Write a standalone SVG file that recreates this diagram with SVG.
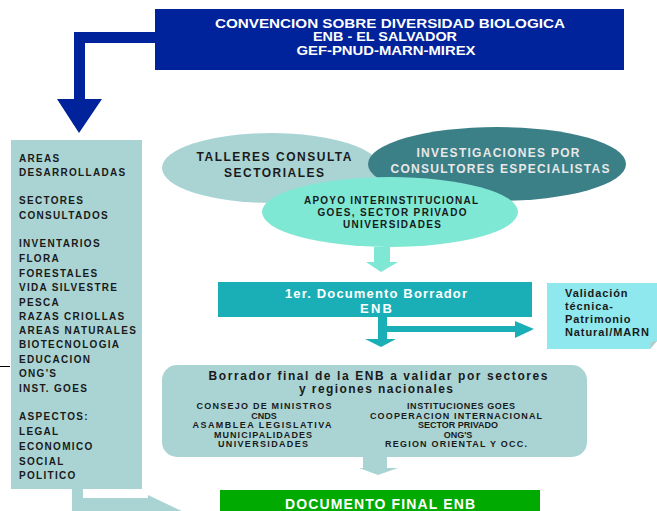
<svg xmlns="http://www.w3.org/2000/svg" width="657" height="511" viewBox="0 0 657 511">
<style>
text{font-family:"Liberation Sans",Arial,sans-serif;font-weight:bold}
.lp{font-size:10px;fill:#1a1a1a;letter-spacing:1.3px}
.hd{font-size:13px;fill:#ffffff;text-anchor:middle}
.el{font-size:12px;text-anchor:middle}
.sm{font-size:9px;fill:#1a1a1a;text-anchor:middle}
.vt{font-size:11px;fill:#1a1a1a;letter-spacing:0.9px}
</style>
<rect width="657" height="511" fill="#ffffff"/>
<g id="connectors">
  <path d="M155,32 H74 V99 H57 L79,133 L102,99 H85 V43 H155 Z" fill="#00229a"/>
  <path d="M374,247 V262 H366 L381,272 L398,262 H390 V247 Z" fill="#7fe8d4"/>
  <path d="M378,317 V339 H365 L381,347 L396,339 H387 V317 Z" fill="#1aafb7"/>
  <path d="M387,326 H515 V321 L534,329 L515,338 V332 H387 Z" fill="#1aafb7"/>
  <path d="M363,457 V468 H359 L378,475 L398,468 H387 V457 Z" fill="#aad4d4"/>
  <path d="M72,489 V511 H148 V518 L190,515 L148,495 V498 H83 V489 Z" fill="#aad4d4"/>
  <line x1="0" y1="366.5" x2="10" y2="366.5" stroke="#000" stroke-width="1"/>
</g>
<g id="top">
  <rect x="155" y="9" width="469" height="61" fill="#00229a"/>
  <text class="hd" x="390" y="28" textLength="350" lengthAdjust="spacingAndGlyphs">CONVENCION SOBRE DIVERSIDAD BIOLOGICA</text>
  <text class="hd" x="385" y="41" style="font-size:12px" textLength="144" lengthAdjust="spacingAndGlyphs">ENB - EL SALVADOR</text>
  <text class="hd" x="386" y="55" style="font-size:12px" textLength="179" lengthAdjust="spacingAndGlyphs">GEF-PNUD-MARN-MIREX</text>
</g>
<g id="left-panel">
  <rect x="11" y="140" width="131" height="349" fill="#aad4d4"/>
  <text class="lp" x="19" y="162">AREAS</text>
  <text class="lp" x="19" y="176">DESARROLLADAS</text>
  <text class="lp" x="19" y="204">SECTORES</text>
  <text class="lp" x="19" y="219">CONSULTADOS</text>
  <text class="lp" x="19" y="247">INVENTARIOS</text>
  <text class="lp" x="19" y="262">FLORA</text>
  <text class="lp" x="19" y="277">FORESTALES</text>
  <text class="lp" x="19" y="291">VIDA SILVESTRE</text>
  <text class="lp" x="19" y="306">PESCA</text>
  <text class="lp" x="19" y="320">RAZAS CRIOLLAS</text>
  <text class="lp" x="19" y="334">AREAS NATURALES</text>
  <text class="lp" x="19" y="348">BIOTECNOLOGIA</text>
  <text class="lp" x="19" y="363">EDUCACION</text>
  <text class="lp" x="19" y="377">ONG'S</text>
  <text class="lp" x="19" y="392">INST. GOES</text>
  <text class="lp" x="19" y="420">ASPECTOS:</text>
  <text class="lp" x="19" y="435">LEGAL</text>
  <text class="lp" x="19" y="450">ECONOMICO</text>
  <text class="lp" x="19" y="465">SOCIAL</text>
  <text class="lp" x="19" y="479">POLITICO</text>
</g>
<g id="talleres">
  <ellipse cx="271" cy="168" rx="109" ry="35" fill="#aad4d4"/>
  <text class="el" x="274" y="161" fill="#1a1a1a" textLength="155" lengthAdjust="spacing">TALLERES CONSULTA</text>
  <text class="el" x="274" y="177" fill="#1a1a1a" textLength="100" lengthAdjust="spacing">SECTORIALES</text>
</g>
<g id="investigaciones">
  <ellipse cx="497" cy="164" rx="129" ry="37" fill="#3b7f87"/>
  <text class="el" x="498" y="157" fill="#e8e8e8" textLength="163" lengthAdjust="spacing">INVESTIGACIONES POR</text>
  <text class="el" x="500" y="173" fill="#e8e8e8" textLength="219" lengthAdjust="spacing">CONSULTORES ESPECIALISTAS</text>
</g>
<g id="apoyo">
  <ellipse cx="390" cy="212" rx="128" ry="35" fill="#7fe8d4"/>
  <text class="sm" x="391" y="204" style="font-size:10px" textLength="174" lengthAdjust="spacing">APOYO INTERINSTITUCIONAL</text>
  <text class="sm" x="392" y="216" style="font-size:10px" textLength="149" lengthAdjust="spacing">GOES, SECTOR PRIVADO</text>
  <text class="sm" x="392" y="228" style="font-size:10px" textLength="98" lengthAdjust="spacing">UNIVERSIDADES</text>
</g>
<g id="borrador1">
  <rect x="218" y="282" width="314" height="35" fill="#1aafb7"/>
  <text class="hd" x="376" y="298" textLength="182" lengthAdjust="spacing">1er. Documento Borrador</text>
  <text class="hd" x="376" y="313" textLength="32" lengthAdjust="spacing">ENB</text>
</g>
<g id="validacion">
  <path d="M547,283 H657 V341 L650,349 H547 Z" fill="#8ee8ee"/>
  <path d="M650,349 L651,342 L657,341 Z" fill="#b9c9c9"/>
  <text class="vt" x="565" y="297">Validación</text>
  <text class="vt" x="565" y="310">técnica-</text>
  <text class="vt" x="565" y="323">Patrimonio</text>
  <text class="vt" x="565" y="336">Natural/MARN</text>
</g>
<g id="borrador-final">
  <rect x="162" y="365" width="425" height="92" rx="15" fill="#aad4d4"/>
  <text x="378" y="380" style="font-size:12px;fill:#1a1a1a;text-anchor:middle" textLength="339" lengthAdjust="spacing">Borrador final de la ENB a validar por sectores</text>
  <text x="376" y="393" style="font-size:12px;fill:#1a1a1a;text-anchor:middle" textLength="154" lengthAdjust="spacing">y regiones nacionales</text>
  <text class="sm" x="264" y="409" textLength="135" lengthAdjust="spacing">CONSEJO DE MINISTROS</text>
  <text class="sm" x="264" y="418.5">CNDS</text>
  <text class="sm" x="262" y="428" textLength="139" lengthAdjust="spacing">ASAMBLEA LEGISLATIVA</text>
  <text class="sm" x="263" y="437.5" textLength="98" lengthAdjust="spacing">MUNICIPALIDADES</text>
  <text class="sm" x="263" y="447" textLength="90" lengthAdjust="spacing">UNIVERSIDADES</text>
  <text class="sm" x="461" y="409" textLength="108" lengthAdjust="spacing">INSTITUCIONES GOES</text>
  <text class="sm" x="456" y="418.5" textLength="172" lengthAdjust="spacing">COOPERACION INTERNACIONAL</text>
  <text class="sm" x="458" y="428">SECTOR PRIVADO</text>
  <text class="sm" x="458" y="437.5">ONG'S</text>
  <text class="sm" x="456" y="447" textLength="142" lengthAdjust="spacing">REGION ORIENTAL Y OCC.</text>
</g>
<g id="documento-final">
  <rect x="220" y="490" width="320" height="25" fill="#00aa00"/>
  <text x="380" y="509" style="font-size:14px;fill:#ffffff;text-anchor:middle" textLength="190" lengthAdjust="spacing">DOCUMENTO FINAL ENB</text>
</g>
</svg>
